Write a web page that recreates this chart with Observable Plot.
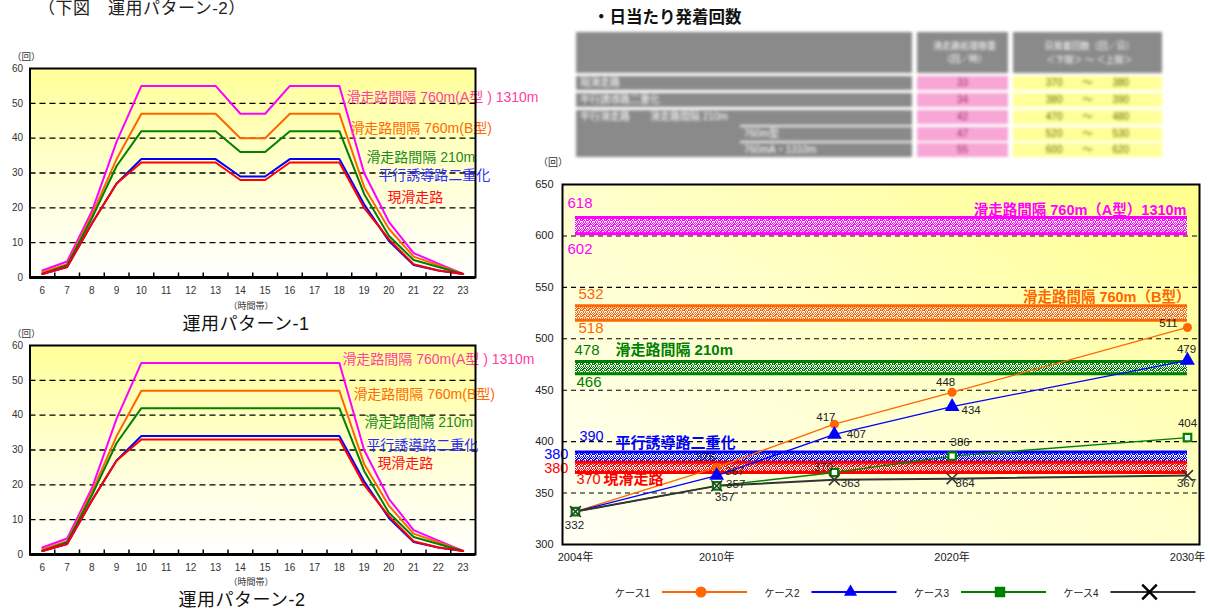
<!DOCTYPE html>
<html><head><meta charset="utf-8">
<script src="https://cdn.jsdelivr.net/npm/d3@7"></script>
<script src="https://cdn.jsdelivr.net/npm/@observablehq/plot@0.6"></script>
<style>
body{margin:0;background:#fff;font-family:"Liberation Sans",Arial,"Noto Sans CJK JP",sans-serif;}
#root{position:relative;width:1211px;height:609px;overflow:hidden;}
#root svg{overflow:visible;}
</style></head><body><div id="root"></div>
<script>
// ---------- data: left charts (hourly departures/arrivals) ----------
const hours = [6,7,8,9,10,11,12,13,14,15,16,17,18,19,20,21,22,23];
const seriesNames = ["滑走路間隔 760m(A型 ) 1310m","滑走路間隔 760m(B型)","滑走路間隔 210m","平行誘導路二重化","現滑走路"];
// upper chart (with midday dip)
const upA    = [2,4.6,19,39,55,55,55,55,47,47,55,55,55,30,16,7,4,1];
const upB    = [1.5,3.8,18,34,47,47,47,47,40,40,47,47,47,26,14,6,3.5,1];
const up210  = [1,3.5,17,32,42,42,42,42,36,36,42,42,42,24,12,5,3,1];
const upTwin = [1,3,15.5,27,34,34,34,34,29,29,34,34,34,21,10.5,3.6,2,1];
const upCur  = [1,3,15.5,27,33,33,33,33,28,28,33,33,33,20,11,3.8,2,1];
// lower chart (flat plateau)
const loA    = [2,4.6,19,39,55,55,55,55,55,55,55,55,55,30,16,7,4,1];
const loB    = [1.5,3.8,18,34,47,47,47,47,47,47,47,47,47,26,14,6,3.5,1];
const lo210  = [1,3.5,17,32,42,42,42,42,42,42,42,42,42,24,12,5,3,1];
const loTwin = [1,3,15.5,27,34,34,34,34,34,34,34,34,34,21,10.5,3.6,2,1];
const loCur  = [1,3,15.5,27,33,33,33,33,33,33,33,33,33,20,11,3.8,2,1];
const yTicksLeft = [0,10,20,30,40,50,60];

// ---------- data: right chart (daily movements) ----------
const years = [2004,2010,2015,2020,2030];
const yearTicks = [2004,2010,2020,2030];
const caseNames = ["ケース1","ケース2","ケース3","ケース4"];
const case1 = [332,375,417,448,511];
const case2 = [332,367,407,434,479];
const case3 = [332,357,370,386,404];
const case4 = [332,357,363,364,367];
const bandNames = ["滑走路間隔 760m（A型）1310m","滑走路間隔 760m（B型）","滑走路間隔 210m","平行誘導路二重化","現滑走路"];
const bandLow  = [602,518,466,380,370];
const bandHigh = [618,532,478,390,380];
const yTicksRight = [300,350,400,450,500,550,600,650];

// ---------- data: table ----------
const tableRowLabels = ["現滑走路","平行誘導路二重化","平行滑走路　　滑走路間隔 210m","760m型","760mA・1310m"];
const tableCapacity = [33,34,42,47,55];
const tableDailyLow = [370,380,470,520,600];
const tableDailyHigh = [380,390,480,530,620];

// ---------- styles ----------
const lineColors = ["#ff00ff","#ff6600","#008000","#0000ff","#ff0000"];
const leftLabelColors = ["#ff3fa0","#ff6a00","#1a8a1a","#2b2bff","#ff1010"];
const caseColors = ["#ff6600","#0000ff","#008000","#333333"];
const bandColors = ["#ff00ff","#ff6600","#008000","#0000ff","#ff0000"];
const FONT = `"Liberation Sans",Arial,"Noto Sans CJK JP",sans-serif`;
const root = document.getElementById("root");

function put(el, left, top){ el.style.position="absolute"; el.style.left=left+"px"; el.style.top=top+"px"; root.appendChild(el); return el; }
function txt(t, left, top, css){ const d=document.createElement("div"); d.textContent=t; d.style.whiteSpace="nowrap"; d.style.lineHeight="1"; Object.assign(d.style, css||{}); return put(d,left,top); }
function addDefs(svg, html){ const defs=document.createElementNS("http://www.w3.org/2000/svg","defs"); defs.innerHTML=html; svg.insertBefore(defs, svg.firstChild); }

// ---------- left charts ----------
const leftLabelOffsets = [[7,12],[11,15],[27,26],[39,16],[48,35]];
const leftLabelOffsets2 = [[3,-3],[14,4],[25,14],[27,9],[38,24]];
function leftChart(series, gradId, offs, top){
  const rows = [];
  series.forEach((vals,i)=>hours.forEach((h,j)=>rows.push({s:seriesNames[i], h, v:vals[j]})));
  const bounds = hours.slice(0,-1).map(h=>h+0.5);
  const svg = Plot.plot({
    width:540, height:250, marginLeft:29.5, marginRight:65, marginTop:18, marginBottom:23,
    style:{fontSize:"10px", fontFamily:FONT, background:"transparent", color:"#333"},
    x:{domain:[5.5,23.5], ticks:hours, tickSize:0, tickPadding:9, tickFormat:d=>d, label:null},
    y:{domain:[0,60], ticks:yTicksLeft, tickSize:0, tickPadding:7, label:null},
    color:{domain:seriesNames, range:lineColors},
    marks:[
      Plot.frame({fill:`url(#${gradId})`}),
      Plot.ruleY([10,20,30,40,50],{stroke:"#000", strokeDasharray:"6,4", strokeWidth:1.3}),
      Plot.line(rows,{x:"h", y:"v", z:"s", stroke:"s", strokeWidth:2}),
      ...series.map((vals,i)=>Plot.text([seriesNames[i]],{x:()=>18, y:()=>vals[12], text:d=>d, dx:offs[i][0], dy:offs[i][1], textAnchor:"start", fill:leftLabelColors[i], fontSize:14})),
      Plot.ruleX(bounds,{x:d=>d, y1:()=>0, y2:()=>1.3, stroke:"#000", strokeWidth:1.5}),
      Plot.ruleY([0],{stroke:"#000", strokeWidth:3}),
      Plot.frame({stroke:"#000", strokeWidth:2})
    ]
  });
  addDefs(svg, `<linearGradient id="${gradId}" x1="0" y1="0" x2="0" y2="1"><stop offset="0" stop-color="#ffff99"/><stop offset="0.55" stop-color="#ffffd6"/><stop offset="1" stop-color="#ffffff"/></linearGradient>`);
  put(svg, 0, top);
}
leftChart([upA,upB,up210,upTwin,upCur], "gradL1", leftLabelOffsets, 50);
leftChart([loA,loB,lo210,loTwin,loCur], "gradL2", leftLabelOffsets2, 327);

txt("（下図　運用パターン-2）", 38, 0, {fontSize:"17px", color:"#222", letterSpacing:"0.5px"});
txt("（回）", 12, 52, {fontSize:"9.5px", color:"#333"});
txt("（回）", 12, 329, {fontSize:"9.5px", color:"#333"});
txt("（時間帯）", 251, 302, {fontSize:"9px", color:"#333", transform:"translateX(-50%)"});
txt("運用パターン-1", 246, 315, {fontSize:"18px", color:"#111", letterSpacing:"0.5px", transform:"translateX(-50%)"});
txt("（時間帯）", 251, 578, {fontSize:"9px", color:"#333", transform:"translateX(-50%)"});
txt("運用パターン-2", 242, 591, {fontSize:"18px", color:"#111", letterSpacing:"0.5px", transform:"translateX(-50%)"});

// ---------- table (blurred) ----------
txt("・日当たり発着回数", 593, 9, {fontSize:"16.5px", fontWeight:"bold", color:"#111"});
const tbl = document.createElement("div");
tbl.style.width="600px"; tbl.style.height="135px"; tbl.style.filter="blur(1.5px)";
put(tbl, 570, 28);
function cell(parent, l, t, w, h, bg, text, color, size, align){
  const c=document.createElement("div"); c.style.position="absolute"; c.style.left=l+"px"; c.style.top=t+"px"; c.style.width=w+"px"; c.style.height=h+"px"; c.style.background=bg; c.style.color=color||"#fff"; c.style.fontSize=(size||10)+"px"; c.style.lineHeight=h+"px"; c.style.textAlign=align||"left"; c.style.whiteSpace="nowrap"; c.style.overflow="hidden"; c.style.paddingLeft = align? "0":"4px"; c.style.boxSizing="border-box"; c.textContent=text||""; parent.appendChild(c); return c;
}
const G="#8a8a8a";
cell(tbl,6,4,336,41,G,"");
const ph=cell(tbl,347,4,91,41,G,""); ph.innerHTML='<div style="line-height:13px;padding-top:8px;text-align:center;font-size:9px">滑走路処理容量<br>（回／時）</div>';
const yh=cell(tbl,443,4,149,41,G,""); yh.innerHTML='<div style="line-height:14px;padding-top:7px;text-align:center;font-size:9px">日発着回数（回／日）<br>＜下限＞ ～ ＜上限＞</div>';
const rowTops=[48,65,82,99,115];
cell(tbl,6,48,336,14,G,tableRowLabels[0]);
cell(tbl,6,65,336,14,G,tableRowLabels[1]);
cell(tbl,6,82,336,47,G,"");
cell(tbl,6,82,336,14,"transparent",tableRowLabels[2]);
cell(tbl,170,99,172,14,"transparent",tableRowLabels[3]);
cell(tbl,170,115,172,14,"transparent",tableRowLabels[4]);
cell(tbl,170,97,172,1.5,"#eee","");
cell(tbl,170,113,172,1.5,"#eee","");
tableCapacity.forEach((v,i)=>cell(tbl,347,rowTops[i],91,14,"#f7a6d6",String(v),"#a0306a",10,"center"));
tableDailyLow.forEach((v,i)=>cell(tbl,443,rowTops[i],149,14,"#ffff9a",`${v}　　～　　${tableDailyHigh[i]}`,"#6b6b00",10,"center"));

// ---------- right chart ----------
function dotPattern(id,color){
  const w=[[0,0],[2,0],[4,0],[1,1],[3,1],[5,1],[0,2],[4,2],[2,3],[3,3],[5,3],[1,4],[3,4],[0,5],[2,5],[4,5],[5,5]];
  return `<pattern id="${id}" width="6" height="6" patternUnits="userSpaceOnUse"><rect width="6" height="6" fill="${color}"/>${w.map(([x,y])=>`<rect x="${x}" y="${y}" width="1" height="1" fill="#fff"/>`).join("")}</pattern>`;
}
const caseSeries=[case1,case2,case3,case4];
const caseSymbols=["circle","triangle","square","times"];
const numOffsetsLo=[[-8,15],[3,8],[1,8],[-7,-7.5],[1,7]];
const numOffsetsHi=[[-8,-14],[3,-12],[-1,-11],[4,-16],[-7,6.5]];
const bandLabelAnchor=["end","end","start","start","start"];
const bandLabelOffsets=[[-1,-7],[3,-9],[40,-11],[40,-9],[28,7]];
const valueLabelOffsets=[
  [null,[-11,-10],[-8.5,-7],[-6.5,-10],[-19,-4]],
  [null,[18,-4],[22,0],[19,4],[-1,-11]],
  [null,[19,-2],[-11,-5],[8,-14],[0,-14]],
  [[-1,14],[8,11],[16,4],[13,5],[-1,8]]
];
const x0=()=>years[0], x1=()=>years[years.length-1];
const bandMarks=[];
bandNames.forEach((n,i)=>{
  bandMarks.push(Plot.rect([i],{x1:x0, x2:x1, y1:()=>bandLow[i], y2:()=>bandHigh[i], fill:`url(#pat${i})`}));
});
bandNames.forEach((n,i)=>{
  bandMarks.push(Plot.ruleY([bandHigh[i]],{x1:x0, x2:x1, y:d=>d, stroke:bandColors[i], strokeWidth:3}));
  bandMarks.push(Plot.ruleY([bandLow[i]],{x1:x0, x2:x1, y:d=>d, stroke:bandColors[i], strokeWidth:i===3?1.5:3}));
});
const bandTextMarks=[];
bandNames.forEach((n,i)=>{
  const hiA = i===4? "end":"start", loA = i===3? "end":"start";
  const fs = (i>=3)? 14.5 : 15;
  bandTextMarks.push(Plot.text([bandHigh[i]],{x:x0, y:d=>d, text:d=>String(d), dx:numOffsetsHi[i][0], dy:numOffsetsHi[i][1], textAnchor:hiA, fill:bandColors[i], fontSize:fs}));
  bandTextMarks.push(Plot.text([bandLow[i]],{x:x0, y:d=>d, text:d=>String(d), dx:numOffsetsLo[i][0], dy:numOffsetsLo[i][1], textAnchor:loA, fill:bandColors[i], fontSize:fs}));
  const anchorX = bandLabelAnchor[i]==="end"? x1 : x0;
  const anchorY = (i===4)? bandLow[i] : bandHigh[i];
  bandTextMarks.push(Plot.text([n],{x:anchorX, y:()=>anchorY, text:d=>d, dx:bandLabelOffsets[i][0], dy:bandLabelOffsets[i][1], textAnchor:bandLabelAnchor[i], fill:bandColors[i], fontSize:i<2?14.5:15, fontWeight:"bold"}));
});
const lineMarks=[], dotMarks=[], valueMarks=[];
caseSeries.forEach((vals,c)=>{
  const rows=years.map((y,j)=>({year:y, v:vals[j]}));
  lineMarks.push(Plot.line(rows,{x:"year", y:"v", stroke:caseColors[c], strokeWidth:c===3?2:1.3}));
  const sym=caseSymbols[c];
  dotMarks.push(Plot.dot(rows.slice(c>=2?0:1),{x:"year", y:"v", symbol:()=>sym, r: sym==="circle"?4.5: sym==="triangle"?5.5: sym==="square"?4.2:5,
    fill: sym==="times"?"none": sym==="square"?"#fff":caseColors[c], stroke: sym==="times"?caseColors[c]: sym==="square"?caseColors[c]:"none", strokeWidth: sym==="square"?2.2:1.6}));
  rows.forEach((r,j)=>{
    const o=valueLabelOffsets[c][j]; if(!o) return;
    valueMarks.push(Plot.text([r],{x:"year", y:"v", text:d=>String(d.v), dx:o[0], dy:o[1], fill:"#222", fontSize:11.5}));
  });
});
const right = Plot.plot({
  width:671, height:425, marginLeft:22, marginRight:12, marginTop:34, marginBottom:31,
  style:{fontSize:"11px", fontFamily:FONT, background:"transparent", color:"#222"},
  x:{domain:[2003.45,2030.51], ticks:yearTicks, tickFormat:d=>d+"年", tickSize:0, tickPadding:9, label:null},
  y:{domain:[300,650], ticks:yTicksRight, tickSize:0, tickPadding:9, label:null},
  marks:[
    Plot.frame({fill:"url(#gradR)"}),
    Plot.ruleY([350,400,450,500,550,600],{stroke:"#000", strokeDasharray:"5,4", strokeWidth:1.1}),
    ...bandMarks,
    ...lineMarks,
    ...dotMarks,
    ...bandTextMarks,
    ...valueMarks,
    Plot.frame({stroke:"#000", strokeWidth:2})
  ]
});
addDefs(right, `<linearGradient id="gradR" x1="0" y1="1" x2="1" y2="0"><stop offset="0" stop-color="#fffff6"/><stop offset="0.5" stop-color="#ffffcc"/><stop offset="1" stop-color="#ffff8a"/></linearGradient>` + bandColors.map((c,i)=>dotPattern("pat"+i,c)).join(""));
put(right, 540, 150);
txt("（回）", 538, 158, {fontSize:"10px", color:"#333"});

// ---------- legend ----------
const leg = d3.create("svg").attr("width",671).attr("height",34).style("overflow","visible");
caseNames.forEach((n,i)=>{
  const bx = 75 + i*149.5;
  const g = leg.append("g").attr("transform",`translate(${bx},0)`);
  g.append("text").attr("x",0).attr("y",22).attr("font-size",10).attr("font-family",FONT).attr("fill","#222").text(n);
  g.append("line").attr("x1",47).attr("x2",132).attr("y1",17).attr("y2",17).attr("stroke",caseColors[i]).attr("stroke-width",2);
  const sym = caseSymbols[i];
  const type = {circle:d3.symbolCircle, triangle:d3.symbolTriangle, square:d3.symbolSquare, times:d3.symbolTimes}[sym];
  const size = {circle:95, triangle:75, square:110, times:140}[sym];
  g.append("path").attr("d",d3.symbol(type,size)()).attr("transform",`translate(86,17)`)
    .attr("fill", sym==="times"?"none":caseColors[i]).attr("stroke", sym==="times"?"#000":"none").attr("stroke-width",2.5);
});
put(leg.node(), 540, 575);
</script></body></html>
